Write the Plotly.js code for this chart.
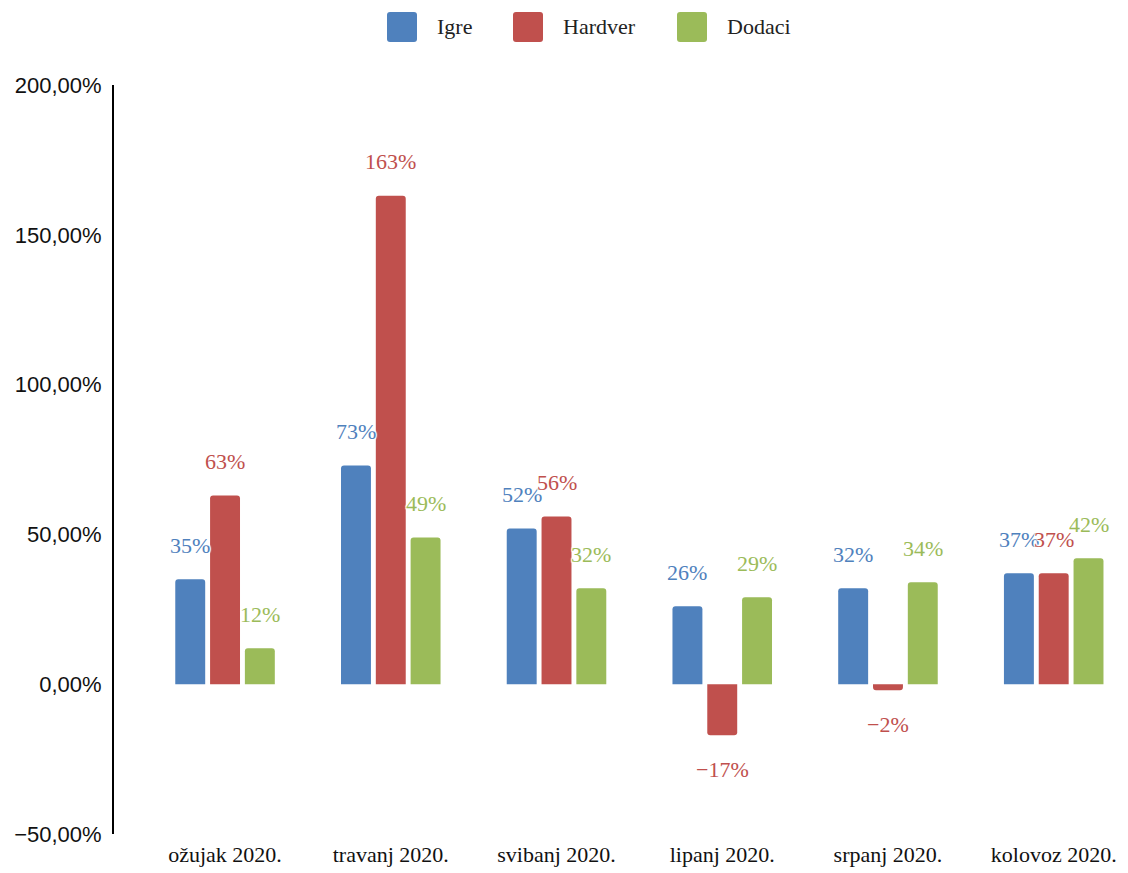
<!DOCTYPE html>
<html>
<head>
<meta charset="utf-8">
<script src="https://cdn.plot.ly/plotly-3.0.1.min.js"></script>
<style>html,body{margin:0;padding:0;background:#fff;}#chart{width:1128px;height:873px;}</style>
</head>
<body>
<div id="chart"></div>
<script>
const categories = ['ožujak 2020.', 'travanj 2020.', 'svibanj 2020.', 'lipanj 2020.', 'srpanj 2020.', 'kolovoz 2020.'];
const seriesNames = ['Igre', 'Hardver', 'Dodaci'];
const igre = [35, 73, 52, 26, 32, 37];
const hardver = [63, 163, 56, -17, -2, 37];
const dodaci = [12, 49, 32, 29, 34, 42];
const colors = ['#4F81BD', '#C0504D', '#9BBB59'];
const yTickVals = [-50, 0, 50, 100, 150, 200];

const allSeries = [igre, hardver, dodaci];
const serif = 'Liberation Serif, Times New Roman, serif';
const fmtTick = v => (v < 0 ? '\u2212' : '') + Math.abs(v).toFixed(2).replace('.', ',') + '%';

const traces = allSeries.map((vals, i) => ({
  type: 'bar',
  name: seriesNames[i],
  x: categories.map((c, k) => k),
  y: vals,
  marker: {color: colors[i], cornerradius: 3},
  showlegend: false,
  hoverinfo: 'skip'
}));

const halo = '1px 1px 1px #fff, -1px -1px 1px #fff, 1px -1px 1px #fff, -1px 1px 1px #fff, 0 0 2px #fff';
const annotations = [];
const offsets = [-0.211, 0, 0.211];
allSeries.forEach((vals, i) => {
  vals.forEach((v, k) => {
    annotations.push({
      x: k + offsets[i], y: v, xref: 'x', yref: 'y',
      text: (v < 0 ? '\u2212' + Math.abs(v) : v) + '%',
      showarrow: false,
      yshift: v < 0 ? -34 : 34,
      font: {family: serif, size: 22, color: colors[i], shadow: halo}
    });
  });
});

// custom legend
const legendX = [387, 513, 677];
const shapes = [];
seriesNames.forEach((n, i) => {
  const cx = (legendX[i] + 15 - 114) / (1120 - 114);
  const r = 3, h = 15;
  shapes.push({
    type: 'path', xref: 'paper', yref: 'paper', xsizemode: 'pixel', ysizemode: 'pixel',
    xanchor: cx, yanchor: 1 + (85 - 27) / (834 - 85),
    path: `M ${-h + r} ${-h} L ${h - r} ${-h} Q ${h} ${-h} ${h} ${-h + r} L ${h} ${h - r} Q ${h} ${h} ${h - r} ${h} L ${-h + r} ${h} Q ${-h} ${h} ${-h} ${h - r} L ${-h} ${-h + r} Q ${-h} ${-h} ${-h + r} ${-h} Z`,
    fillcolor: colors[i], line: {width: 0}
  });
  annotations.push({
    xref: 'paper', yref: 'paper',
    x: (legendX[i] + 48 - 114) / (1120 - 114), y: 1 + (85 - 27) / (834 - 85),
    xanchor: 'left', yanchor: 'middle', showarrow: false,
    text: n, font: {family: serif, size: 22, color: '#222'}
  });
});

const layout = {
  width: 1128, height: 873,
  margin: {l: 114, r: 8, t: 85, b: 39},
  paper_bgcolor: '#fff', plot_bgcolor: '#fff',
  barmode: 'group',
  bargap: 0.37,
  bargroupgap: 0.14,
  xaxis: {
    range: [-0.67, 5.4],
    tickmode: 'array',
    tickvals: categories.map((c, k) => k),
    ticktext: categories,
    showgrid: false, zeroline: false, showline: false, ticks: '',
    ticklabelstandoff: 5,
    tickfont: {family: serif, size: 22, color: '#111'},
    fixedrange: true
  },
  yaxis: {
    range: [-50, 200],
    tickmode: 'array',
    tickvals: yTickVals,
    ticktext: yTickVals.map(fmtTick),
    showgrid: false, zeroline: false,
    showline: true, linecolor: '#000', linewidth: 2,
    ticks: '',
    ticklabelstandoff: 6,
    tickfont: {family: 'Liberation Sans, Arial, sans-serif', size: 22, color: '#111'},
    fixedrange: true
  },
  shapes: shapes,
  annotations: annotations,
  showlegend: false
};

Plotly.newPlot('chart', traces, layout, {displayModeBar: false, staticPlot: true});
</script>
</body>
</html>
